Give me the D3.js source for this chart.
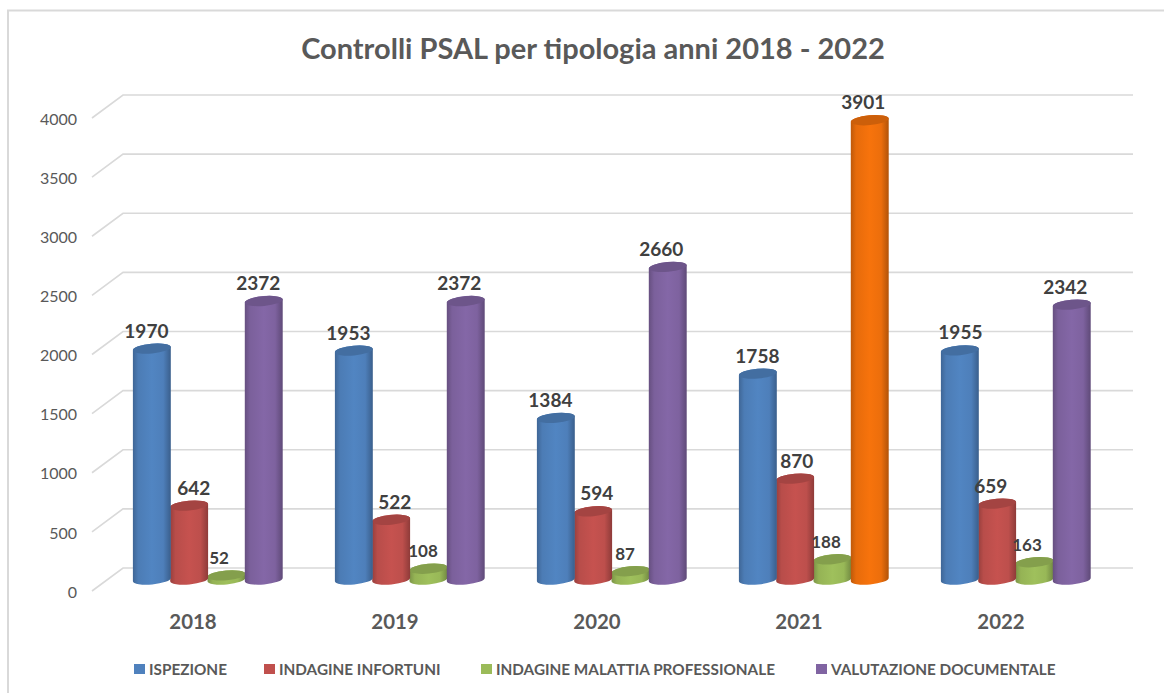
<!DOCTYPE html>
<html><head><meta charset="utf-8">
<script src="https://cdn.jsdelivr.net/npm/d3@7"></script>
<style>html,body{margin:0;padding:0;background:#fff}svg{display:block}</style>
</head><body><svg id="c" width="1164" height="693"></svg>
<script>
const title = "Controlli PSAL per tipologia anni 2018 - 2022";
const years = ["2018","2019","2020","2021","2022"];
const seriesNames = ["ISPEZIONE","INDAGINE INFORTUNI","INDAGINE MALATTIA PROFESSIONALE","VALUTAZIONE DOCUMENTALE"];
const ispezione = [1970,1953,1384,1758,1955];
const infortuni = [642,522,594,870,659];
const malattia = [52,108,87,188,163];
const valutazione = [2372,2372,2660,3901,2342];
const seriesValues = [ispezione,infortuni,malattia,valutazione];
const seriesColors = ["#4F81BD","#C0504D","#9BBB59","#8064A2"];
const highlightColor = "#F0700C";
const yTicks = [0,500,1000,1500,2000,2500,3000,3500,4000];
const legendX = [134,264,481,816];

const svg = d3.select("#c");
const depthX=31, depthY=23;
const x = d3.scaleBand().domain(years).range([92,1102]);
const s = d3.scaleBand().domain(d3.range(4)).range([0,149.2]);
const y = d3.scaleLinear().domain([0,4000]).range([591,118]);
const defs = svg.append("defs");
function grad(id,c){
  const g=defs.append("linearGradient").attr("id",id).attr("x1","0").attr("x2","1").attr("y1","0").attr("y2","0");
  const col=d3.color(c);
  [[0,col.darker(0.65)],[0.14,col.darker(0.12)],[0.5,col.brighter(0.08)],[0.8,col.darker(0.05)],[1,col.darker(0.85)]]
   .forEach(([o,k])=>g.append("stop").attr("offset",o).attr("stop-color",k));
}
seriesColors.forEach((c,i)=>grad("g"+i,c));
grad("gh",highlightColor);

svg.append("rect").attr("x",8).attr("y",10.5).attr("width",1170).attr("height",700)
  .attr("fill","#fff").attr("stroke","#D9D9D9").attr("stroke-width",2);
svg.append("text").text(title).attr("x",593).attr("y",59).attr("text-anchor","middle")
  .attr("font-family","Lato").attr("font-weight",700).attr("font-size",29).attr("fill","#595959");

const grid = svg.append("g").attr("fill","none").attr("stroke","#D9D9D9").attr("stroke-width",1.6);
yTicks.forEach(t=>{
  grid.append("polyline").attr("points",[[x.range()[0],y(t)],[x.range()[0]+depthX,y(t)-depthY],[x.range()[1]+depthX,y(t)-depthY]].join(" "));
});
const axY = svg.append("g").attr("transform","translate(77,1)").call(d3.axisLeft(y).tickValues(yTicks).tickSize(0).tickPadding(0).tickFormat(d3.format("d")));
axY.select(".domain").remove();
axY.selectAll("text").attr("font-family","Lato").attr("font-size",16).attr("fill","#595959").attr("dy","0.32em");
const axX = svg.append("g").attr("transform","translate(0,613)").call(d3.axisBottom(x).tickSize(0).tickPadding(0));
axX.select(".domain").remove();
axX.selectAll("text").attr("font-family","Lato").attr("font-weight",700).attr("font-size",20.4).attr("fill","#595959").attr("dy","0.76em");

const rx = s.bandwidth()/2+0.3, ry=4.9, rot=-5, topShift=2, barShift=-1;
function cyl(g,xl,yTop,yBot,fill,topFill){
  const dy=Math.sin(rot*Math.PI/180)*rx;
  const xr=xl+2*rx;
  const d=`M${xl},${yTop-dy} L${xl},${yBot-dy} A${rx},${ry} ${rot} 0 0 ${xr},${yBot+dy} L${xr},${yTop+dy} A${rx},${ry} ${rot} 0 0 ${xl},${yTop-dy} Z`;
  g.append("path").attr("d",d).attr("fill",fill);
  g.append("ellipse").attr("cx",xl+rx).attr("cy",yTop).attr("rx",rx).attr("ry",ry)
    .attr("transform",`rotate(${rot} ${xl+rx} ${yTop})`).attr("fill",topFill);
}
const groupX = yr => x(yr)+x.bandwidth()/2+depthX/2-s.range()[1]/2;
const bars=svg.append("g");
years.forEach((yr,yi)=>{
  const g=bars.append("g");
  // draw the outer bars last so their edges lie over the inner ones, as in the 3D view
  [2,1,0,3].forEach(si=>{
    const v=seriesValues[si][yi];
    const hi=si===3&&v===d3.max(valutazione);
    const c=hi?highlightColor:seriesColors[si];
    const yBase=y(0)-depthY/2, yTop=y(v)-depthY/2+topShift;
    cyl(g,groupX(yr)+s(si)+barShift,yTop,yBase,`url(#${hi?"gh":"g"+si})`,d3.color(c).darker(0.45).formatHex());
  });
});

const labelDx=[[13,13,13,18,19],[23,22,22,20,12],[11,13,13,12,11],[13,12,12,12,12]];
const labels=svg.append("g");
seriesValues.forEach((vals,si)=>vals.forEach((v,yi)=>{
  labels.append("text").text(v).attr("x",groupX(years[yi])+s(si)+labelDx[si][yi]-0.5).attr("y",y(v)-depthY/2-15.5)
    .attr("text-anchor","middle").attr("dy","0.35em")
    .attr("font-family","Lato").attr("font-weight",700).attr("font-size",si===2?17:19).attr("fill","#404040");
}));

const leg=svg.append("g");
seriesNames.forEach((n,i)=>{
  leg.append("rect").attr("x",legendX[i]).attr("y",664).attr("width",11).attr("height",10).attr("fill",seriesColors[i]);
  leg.append("text").text(n).attr("x",legendX[i]+15).attr("y",669.5).attr("dy","0.35em")
   .attr("font-family","Lato").attr("font-weight",700).attr("font-size",15.3).attr("fill","#595959");
});
</script></body></html>
